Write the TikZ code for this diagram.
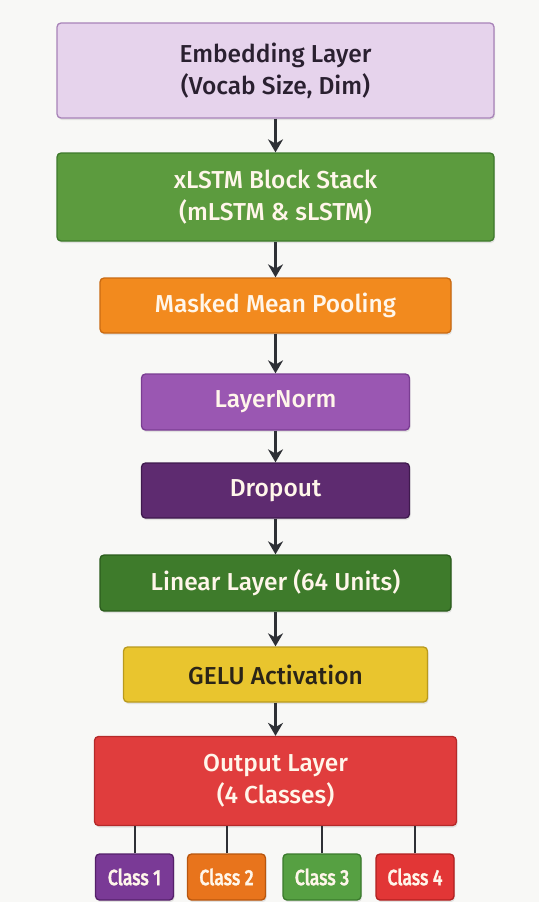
\documentclass[tikz,border=0pt]{standalone}
\usepackage{fontspec}
\setmainfont{Fira Sans}[UprightFont={* Medium}]
\newfontfamily\condfont{Fira Sans}[UprightFont={* Medium}, FakeStretch=0.8, FakeBold=1.2]
\usetikzlibrary{arrows.meta,shadows}

\definecolor{bgcol}{HTML}{F8F8F6}
\definecolor{arrowcol}{HTML}{2E3035}
\definecolor{embfill}{HTML}{E6D3EC}\definecolor{embdraw}{HTML}{A883B8}\definecolor{darktext}{HTML}{2A2030}
\definecolor{xlfill}{HTML}{5C9B3E}\definecolor{xldraw}{HTML}{3E7A2C}
\definecolor{poolfill}{HTML}{F28A1E}\definecolor{pooldraw}{HTML}{C96A12}
\definecolor{lnfill}{HTML}{9A57B2}\definecolor{lndraw}{HTML}{7A3D92}
\definecolor{dropfill}{HTML}{5E2B70}\definecolor{dropdraw}{HTML}{3F1A4E}
\definecolor{linfill}{HTML}{3E7B2B}\definecolor{lindraw}{HTML}{2B5C1D}
\definecolor{gelufill}{HTML}{E9C52E}\definecolor{geludraw}{HTML}{B99A1E}\definecolor{gelutext}{HTML}{2A2418}
\definecolor{outfill}{HTML}{E03D3D}\definecolor{outdraw}{HTML}{B52A2A}
\definecolor{cafill}{HTML}{7A3A96}\definecolor{cadraw}{HTML}{55206A}
\definecolor{cbfill}{HTML}{E8741C}\definecolor{cbdraw}{HTML}{B8560E}
\definecolor{ccfill}{HTML}{56A042}\definecolor{ccdraw}{HTML}{3A7A2C}
\definecolor{cdfill}{HTML}{E23636}\definecolor{cddraw}{HTML}{B02020}
\definecolor{lighttext}{HTML}{FFF6EA}

\begin{document}
\begin{tikzpicture}[x=1pt,y=-1pt,
  layerbox/.style={rectangle, rounded corners=4pt, line width=1.3pt, inner sep=0pt,
    align=center, text=lighttext, font=\fontsize{24.5}{32}\selectfont,
    drop shadow={opacity=0.18, shadow xshift=1pt, shadow yshift=-2pt}},
  classbox/.style={layerbox, minimum width=78pt, minimum height=46pt,
    font=\condfont\fontsize{22}{24}\selectfont},
  flow/.style={draw=arrowcol, line width=2.2pt, -{Stealth[length=13pt,width=15pt]}},
  branch/.style={draw=arrowcol, line width=2pt}]

\fill[bgcol] (0,0) rectangle (539,902);
\useasboundingbox (0,0) rectangle (539,902);

% main stack of layers
\node[layerbox, fill=embfill, draw=embdraw, text=darktext, minimum width=437pt, minimum height=95pt]
  (emb) at (275.5,70.5) {Embedding Layer\\(Vocab Size, Dim)};
\node[layerbox, fill=xlfill, draw=xldraw, minimum width=437pt, minimum height=88pt]
  (xl) at (275.5,197) {xLSTM Block Stack\\(mLSTM \& sLSTM)};
\node[layerbox, fill=poolfill, draw=pooldraw, minimum width=351pt, minimum height=55pt]
  (pool) at (275.5,305.5) {Masked Mean Pooling};
\node[layerbox, fill=lnfill, draw=lndraw, minimum width=268pt, minimum height=56pt]
  (ln) at (275.5,402) {LayerNorm};
\node[layerbox, fill=dropfill, draw=dropdraw, minimum width=268pt, minimum height=55pt]
  (drop) at (275.5,490.5) {Dropout};
\node[layerbox, fill=linfill, draw=lindraw, minimum width=351pt, minimum height=56pt]
  (lin) at (275.5,583) {Linear Layer (64 Units)};
\node[layerbox, fill=gelufill, draw=geludraw, text=gelutext, minimum width=304pt, minimum height=55pt]
  (gelu) at (275.5,674.5) {GELU Activation};
\node[layerbox, fill=outfill, draw=outdraw, minimum width=362pt, minimum height=89pt]
  (out) at (275.5,781) {Output Layer\\(4 Classes)};

% output classes
\node[classbox, fill=cafill, draw=cadraw] (c1) at (134.5,877) {Class 1};
\node[classbox, fill=cbfill, draw=cbdraw] (c2) at (226.5,877) {Class 2};
\node[classbox, fill=ccfill, draw=ccdraw] (c3) at (322,877) {Class 3};
\node[classbox, fill=cdfill, draw=cddraw] (c4) at (415,877) {Class 4};

% flow arrows
\draw[flow] (emb) -- (xl);
\draw[flow] (xl) -- (pool);
\draw[flow] (pool) -- (ln);
\draw[flow] (ln) -- (drop);
\draw[flow] (drop) -- (lin);
\draw[flow] (lin) -- (gelu);
\draw[flow] (gelu) -- (out);

% branches to the classes
\foreach \c in {c1,c2,c3,c4}
  \draw[branch] (\c.north) -- (\c.north |- out.south);
\end{tikzpicture}
\end{document}
